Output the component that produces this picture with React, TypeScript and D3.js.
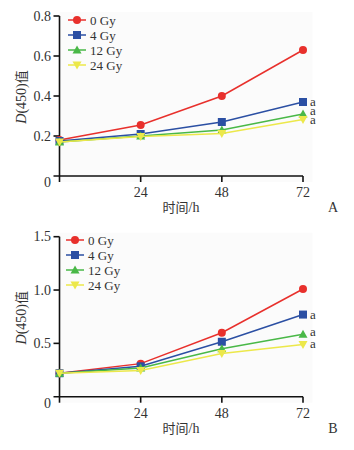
import React from "react";
import * as d3 from "d3";

const hours = [0, 24, 48, 72];
const xTickLabels = ["24", "48", "72"];
const seriesNames = ["0 Gy", "4 Gy", "12 Gy", "24 Gy"];
const colors = ["#e8302c", "#2b4fa3", "#49b847", "#ece84a"];
const symbols = ["circle", "square", "triangleUp", "triangleDown"];

const panelA_0Gy = [0.18, 0.255, 0.4, 0.63];
const panelA_4Gy = [0.175, 0.21, 0.27, 0.37];
const panelA_12Gy = [0.17, 0.2, 0.23, 0.31];
const panelA_24Gy = [0.17, 0.197, 0.213, 0.283];
const panelA_yTicks = [0, 0.2, 0.4, 0.6, 0.8];
const panelA_yLabels = ["0", "0.2", "0.4", "0.6", "0.8"];

const panelB_0Gy = [0.22, 0.31, 0.6, 1.01];
const panelB_4Gy = [0.22, 0.285, 0.515, 0.77];
const panelB_12Gy = [0.22, 0.27, 0.45, 0.585];
const panelB_24Gy = [0.22, 0.245, 0.405, 0.49];
const panelB_yTicks = [0, 0.5, 1.0, 1.5];
const panelB_yLabels = ["0", "0.5", "1.0", "1.5"];

const sigMark = ["", "a", "a", "a"];

const FONT = "'Liberation Serif', 'Times New Roman', serif";
const CJK = "'Noto Sans CJK SC', sans-serif";

function Marker({ kind, x, y, color }: { kind: string; x: number; y: number; color: string }) {
  if (kind === "circle") return <circle cx={x} cy={y} r={4} fill={color} />;
  if (kind === "square") return <rect x={x - 4} y={y - 4} width={8} height={8} fill={color} />;
  if (kind === "triangleUp")
    return <path d={`M${x},${y - 4.5}L${x + 4.5},${y + 3.5}L${x - 4.5},${y + 3.5}Z`} fill={color} />;
  return <path d={`M${x},${y + 4.5}L${x + 4.5},${y - 3.5}L${x - 4.5},${y - 3.5}Z`} fill={color} />;
}

function Panel({
  top,
  data,
  yTicks,
  yLabels,
  yMax,
  letter,
  legendTop,
  legendX,
  aOffsets,
}: {
  top: number;
  data: number[][];
  yTicks: number[];
  yLabels: string[];
  yMax: number;
  letter: string;
  legendTop: number;
  legendX: number;
  aOffsets: number[];
}) {
  const x0 = 59.5;
  const x1 = 303;
  const yBot = top + 160;
  const yTop = top;
  const xs = d3.scaleLinear().domain([0, 72]).range([x0, x1]);
  const ys = d3.scaleLinear().domain([0, yMax]).range([yBot, yTop]);
  const line = d3
    .line<number>()
    .x((_, i) => xs(hours[i]))
    .y((d) => ys(d));
  return (
    <g>
      <rect x={x0} y={yTop - 4} width={253} height={yBot - yTop + 10} fill="#fbfbfb" />
      {/* axes */}
      <line x1={x0} x2={x0} y1={yTop} y2={yBot + 6} stroke="#111" strokeWidth={1.6} />
      <line x1={x0 - 6} x2={x1} y1={yBot} y2={yBot} stroke="#111" strokeWidth={1.6} />
      {yTicks.map((t, i) => (
        <g key={"yt" + i}>
          {t !== 0 && <line x1={x0 - 6} x2={x0} y1={ys(t)} y2={ys(t)} stroke="#111" strokeWidth={1.6} />}
          <text
            x={51}
            y={ys(t) + (t === 0 ? 11 : 4.5)}
            textAnchor="end"
            fontFamily={FONT}
            fontSize={14}
            fill="#333"
          >
            {yLabels[i]}
          </text>
        </g>
      ))}
      {hours.slice(1).map((h, i) => (
        <g key={"xt" + i}>
          <line x1={xs(h)} x2={xs(h)} y1={yBot} y2={yBot + 6} stroke="#111" strokeWidth={1.6} />
          <text x={xs(h)} y={yBot + 21} textAnchor="middle" fontFamily={FONT} fontSize={14} fill="#333">
            {xTickLabels[i]}
          </text>
        </g>
      ))}
      <text x={181} y={yBot + 36} textAnchor="middle" fontSize={13} fill="#333">
        <tspan fontFamily={CJK}>时间</tspan>
        <tspan fontFamily={FONT} fontSize={14}>/h</tspan>
      </text>
      <text x={333} y={yBot + 36} textAnchor="middle" fontFamily={FONT} fontSize={14} fill="#333">
        {letter}
      </text>
      <text
        transform={`translate(26,${top + 81}) rotate(-90)`}
        textAnchor="middle"
        fontSize={14}
        fill="#333"
      >
        <tspan fontFamily={FONT} fontStyle="italic">D</tspan>
        <tspan fontFamily={FONT}>(450)</tspan>
        <tspan fontFamily={CJK} fontSize={13}>值</tspan>
      </text>
      {/* series */}
      {data.map((s, si) => (
        <g key={"s" + si}>
          <path d={line(s) || ""} fill="none" stroke={colors[si]} strokeWidth={1.5} />
          {s.map((v, i) => (
            <Marker key={i} kind={symbols[si]} x={xs(hours[i])} y={ys(v)} color={colors[si]} />
          ))}
          {sigMark[si] && (
            <text
              x={xs(72) + 7}
              y={ys(s[3]) + 4 + aOffsets[si]}
              fontFamily={FONT}
              fontSize={13}
              fill="#333"
            >
              {sigMark[si]}
            </text>
          )}
        </g>
      ))}
      {/* legend */}
      {seriesNames.map((n, i) => (
        <g key={"l" + i}>
          <line
            x1={legendX - 9}
            x2={legendX + 9}
            y1={legendTop + i * 15}
            y2={legendTop + i * 15}
            stroke={colors[i]}
            strokeWidth={1.5}
          />
          <Marker kind={symbols[i]} x={legendX} y={legendTop + i * 15} color={colors[i]} />
          <text
            x={legendX + 13}
            y={legendTop + i * 15 + 4.5}
            fontFamily={FONT}
            fontSize={13}
            fill="#333"
          >
            {n}
          </text>
        </g>
      ))}
    </g>
  );
}

export default function App() {
  return (
    <svg width={354} height={450} style={{ position: "absolute", left: 0, top: 0 }}>
      <rect width={354} height={450} fill="#fff" />
      <Panel
        top={16}
        data={[panelA_0Gy, panelA_4Gy, panelA_12Gy, panelA_24Gy]}
        yTicks={panelA_yTicks}
        yLabels={panelA_yLabels}
        yMax={0.8}
        letter="A"
        legendTop={20}
        legendX={77}
        aOffsets={[0, 0, -3, 1]}
      />
      <Panel
        top={236.7}
        data={[panelB_0Gy, panelB_4Gy, panelB_12Gy, panelB_24Gy]}
        yTicks={panelB_yTicks}
        yLabels={panelB_yLabels}
        yMax={1.5}
        letter="B"
        legendTop={240}
        legendX={75}
        aOffsets={[0, 0, -2, 0]}
      />
    </svg>
  );
}
